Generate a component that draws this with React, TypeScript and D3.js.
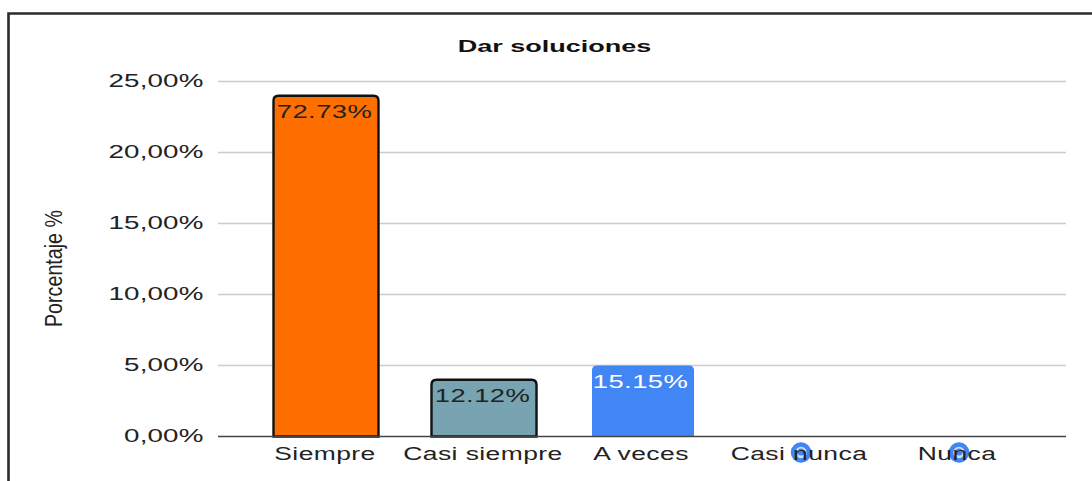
import React from "react";
import * as d3 from "d3";

const title = "Dar soluciones";
const yAxisTitle = "Porcentaje %";
const categories = ["Siempre", "Casi siempre", "A veces", "Casi nunca", "Nunca"];
const heights = [24, 4, 5, 0, 0];
const valueLabels = ["72.73%", "12.12%", "15.15%", "", ""];
const barColors = ["#ff6f00", "#78a3b0", "#4285f4", "#4285f4", "#4285f4"];
const barStrokes = ["#111111", "#111111", "none", "none", "none"];
const labelColors = ["#222222", "#222222", "#ffffff", "#222222", "#222222"];
const yTicks = [0, 5, 10, 15, 20, 25];

const W = 1092;
const H = 481;
const x = d3.scalePoint<string>().domain(categories).range([326, 958]);
const y = d3.scaleLinear().domain([0, 25]).range([436.5, 81.5]);
const barW = 105;
const font = "'Liberation Sans', Arial, sans-serif";

function Stretched({ cx, cy, anchor = "middle", size = 18, fill = "#222", weight = "normal", sx = 1.5, spacing = 0, children }: any) {
  return (
    <text
      transform={`translate(${cx},${cy}) scale(${sx},1)`}
      textAnchor={anchor}
      fontFamily={font}
      fontSize={size}
      fontWeight={weight}
      fill={fill}
      letterSpacing={spacing}
    >
      {children}
    </text>
  );
}

function barPath(cx: number, top: number, w: number, base: number, r: number) {
  const p = d3.path();
  const l = cx - w / 2;
  const rr = l + w;
  p.moveTo(l, base);
  p.lineTo(l, top + r);
  p.quadraticCurveTo(l, top, l + r, top);
  p.lineTo(rr - r, top);
  p.quadraticCurveTo(rr, top, rr, top + r);
  p.lineTo(rr, base);
  p.closePath();
  return p.toString();
}

export default function App() {
  return (
    <svg width={W} height={H} viewBox={`0 0 ${W} ${H}`} style={{ position: "absolute", left: 0, top: 0, display: "block", background: "#fff" }}>
      <path d={`M8.5 ${H} V13.5 H${W}`} fill="none" stroke="#2b2b2b" strokeWidth={2.6} />
      <Stretched cx={554.5} cy={51.5} size={17} weight="bold" fill="#111" sx={1.59}>{title}</Stretched>
      {yTicks.map((t) => (
        <g key={t}>
          {t > 0 && <line x1={218} x2={1066} y1={y(t)} y2={y(t)} stroke="#cccccc" strokeWidth={1.4} />}
          <Stretched cx={203.5} cy={y(t) + 5.5} anchor="end" size={18.5} sx={1.5} spacing={0.1}>
            {d3.format(".2f")(t).replace(".", ",") + "%"}
          </Stretched>
        </g>
      ))}
      <text
        transform="translate(62,268.5) rotate(-90) scale(0.82,1)"
        textAnchor="middle"
        fontFamily={font}
        fontSize={24}
        fill="#222"
      >
        {yAxisTitle}
      </text>
      {categories.map((c, i) => {
        const cx = x(c)!;
        const stroked = barStrokes[i] !== "none";
        return heights[i] > 0 ? (
          <g key={c}>
            <path
              d={barPath(stroked ? cx : cx + 1, y(heights[i]), stroked ? barW : barW - 3, y(0), 5)}
              fill={barColors[i]}
              stroke={barStrokes[i]}
              strokeWidth={2.4}
            />
            <Stretched cx={cx - 1.5} cy={y(heights[i]) + 22} fill={labelColors[i]} size={18.5} sx={1.48} spacing={0.3}>
              {valueLabels[i]}
            </Stretched>
          </g>
        ) : (
          <g key={c}>
            <circle cx={cx + 1} cy={452.5} r={8} fill="#cfe0fb" stroke={barColors[i]} strokeWidth={4.5} />
            <circle cx={cx + 1} cy={452} r={3.5} fill={barColors[i]} />
          </g>
        );
      })}
      <line x1={218} x2={1066} y1={y(0)} y2={y(0)} stroke="#444" strokeWidth={1.6} />
      {categories.map((c) => (
        <Stretched key={c} cx={x(c)! - 1} cy={460} size={18.5} sx={1.43} spacing={0.3}>{c}</Stretched>
      ))}
    </svg>
  );
}
